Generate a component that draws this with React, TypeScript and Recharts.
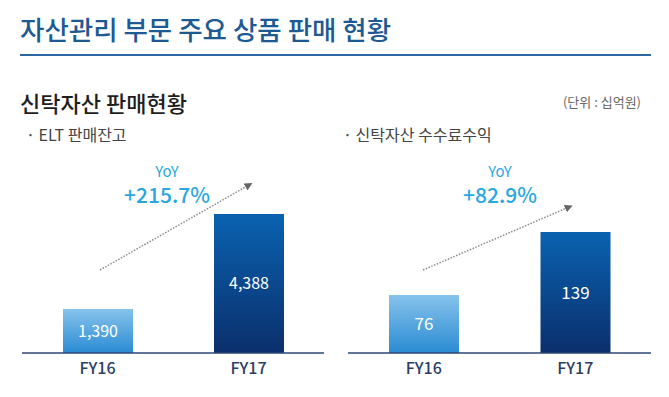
import React from "react"
import { Bar, BarChart, Cell, LabelList, XAxis, YAxis } from "recharts"

const years = ["FY16", "FY17"]
const eltBalance = [1390, 4388]
const trustFee = [76, 139]
const eltYoY = "+215.7%"
const feeYoY = "+82.9%"

const eltData = years.map((year, i) => ({ year, value: eltBalance[i] }))
const feeData = years.map((year, i) => ({ year, value: trustFee[i] }))

const font = "'Noto Sans CJK KR', 'Noto Sans', sans-serif"

const Gradients = () => (
    <defs>
        <linearGradient id="light" x1="0" y1="0" x2="0" y2="1">
            <stop offset="0%" stopColor="#86c3ec" />
            <stop offset="100%" stopColor="#2a8bd2" />
        </linearGradient>
        <linearGradient id="dark" x1="0" y1="0" x2="0" y2="1">
            <stop offset="0%" stopColor="#0a62b0" />
            <stop offset="100%" stopColor="#0b2f6c" />
        </linearGradient>
    </defs>
)

type PanelProps = {
    data: { year: string, value: number }[]
    domain: [number, number]
    left: number
    width: number
    margin: { top: number, right: number, bottom: number, left: number }
    labelSize: number
}

const Panel = (p: PanelProps) => (
    <div style={{ position: "absolute", left: p.left, top: 140 }}>
        <BarChart width={p.width} height={257} data={p.data} margin={p.margin}>
            <Gradients />
            <XAxis
                dataKey="year"
                tickLine={false}
                tickSize={0}
                tickMargin={10}
                height={30}
                axisLine={{ stroke: "#2e4674", strokeWidth: 1.5 }}
                tick={{ fill: "#2b3e63", fontSize: 16, fontWeight: 500, fontFamily: font }}
            />
            <YAxis hide domain={p.domain} />
            <Bar dataKey="value" barSize={70} isAnimationActive={false}>
                <Cell fill="url(#light)" />
                <Cell fill="url(#dark)" />
                <LabelList
                    dataKey="value"
                    position="center"
                    formatter={(v: any) => Number(v).toLocaleString("en-US")}
                    fill="#ffffff"
                    style={{ fontSize: p.labelSize, fontFamily: font }}
                />
            </Bar>
        </BarChart>
    </div>
)

const YoY = ({ cx, text }: { cx: number, text: string }) => (
    <div style={{ position: "absolute", left: cx - 60, top: 162, width: 120, textAlign: "center", color: "#2aa7df", fontFamily: font }}>
        <div style={{ fontSize: 15, lineHeight: "18px" }}>YoY</div>
        <div style={{ fontSize: 21, lineHeight: "24px", marginTop: 2, fontWeight: 500 }}>{text}</div>
    </div>
)

export default function App() {
    return (
        <div style={{ position: "absolute", left: 0, top: 0, width: 669, height: 397, background: "#fff", fontFamily: font }}>
            <div style={{ position: "absolute", left: 20, top: 9, fontSize: 26.5, color: "#1d5a93", fontWeight: 500, whiteSpace: "nowrap" }}>
                자산관리 부문 주요 상품 판매 현황
            </div>
            <div style={{ position: "absolute", left: 20, top: 54, width: 631, height: 2, background: "#2b67a0" }} />
            <div style={{ position: "absolute", left: 20, top: 86, fontSize: 22, color: "#1e1e1e", fontWeight: 500, whiteSpace: "nowrap" }}>
                신탁자산 판매현황
            </div>
            <div style={{ position: "absolute", right: 28, top: 92, fontSize: 13, color: "#666", whiteSpace: "nowrap" }}>
                (단위 : 십억원)
            </div>
            <div style={{ position: "absolute", left: 26, top: 122, fontSize: 16, color: "#444", whiteSpace: "nowrap" }}>
                · ELT 판매잔고
            </div>
            <div style={{ position: "absolute", left: 343, top: 122, fontSize: 16, color: "#444", whiteSpace: "nowrap" }}>
                · 신탁자산 수수료수익
            </div>

            <Panel data={eltData} domain={[0, 5460]} left={0} width={335}
                margin={{ top: 40, right: 11, bottom: 14, left: 22 }} labelSize={16} />
            <Panel data={feeData} domain={[18, 191]} left={335} width={334}
                margin={{ top: 40, right: 18, bottom: 14, left: 13 }} labelSize={17} />

            <svg width={669} height={397} style={{ position: "absolute", left: 0, top: 0, pointerEvents: "none" }}>
                <defs>
                    <marker id="head" markerWidth="8" markerHeight="8" refX="4" refY="4" orient="auto" markerUnits="userSpaceOnUse">
                        <path d="M0,0 L8,4 L0,8 Z" fill="#666" />
                    </marker>
                </defs>
                <line x1={100} y1={270} x2={249} y2={185} stroke="#8a8a8a" strokeWidth={1.5} strokeDasharray="1.5 1.5" markerEnd="url(#head)" />
                <line x1={423} y1={270} x2={569} y2={207} stroke="#8a8a8a" strokeWidth={1.5} strokeDasharray="1.5 1.5" markerEnd="url(#head)" />
            </svg>

            <YoY cx={167} text={eltYoY} />
            <YoY cx={500} text={feeYoY} />
        </div>
    )
}
